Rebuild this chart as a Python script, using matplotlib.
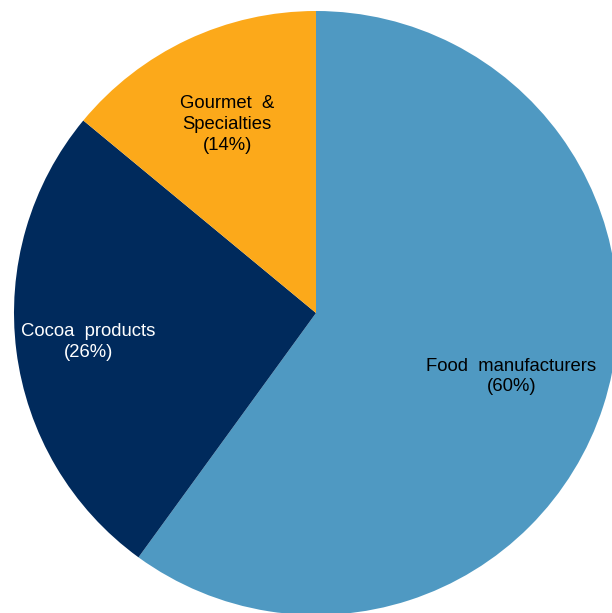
import numpy as np
import matplotlib.pyplot as plt

plt.rcParams['font.family'] = ['Liberation Sans', 'DejaVu Sans']

labels = ["Food  manufacturers", "Cocoa  products", "Gourmet  &\nSpecialties"]
shares = [60, 26, 14]
colors = ["#4F99C2", "#002A5C", "#FCA91A"]
text_colors = ["black", "white", "black"]
label_dist = [0.68, 0.76, 0.69]

fig = plt.figure(figsize=(6.12, 6.13), dpi=100)
ax = fig.add_axes([0, 0, 1, 1])

wedges, _ = ax.pie(shares, colors=colors, startangle=90, counterclock=False,
                   radius=1.0, wedgeprops=dict(linewidth=0))

for w, lab, pct, tc, d in zip(wedges, labels, shares, text_colors, label_dist):
    ang = np.deg2rad((w.theta1 + w.theta2) / 2)
    ax.text(d * np.cos(ang), d * np.sin(ang), f"{lab}\n({pct}%)", ha="center", va="center",
            color=tc, fontsize=13.3, linespacing=1.3)

ax.set_xlim(-316 / 302, (612 - 316) / 302)
ax.set_ylim(-(613 - 313) / 302, 313 / 302)
ax.set_aspect("auto")
ax.axis("off")

fig.savefig("out.png", dpi=100)
